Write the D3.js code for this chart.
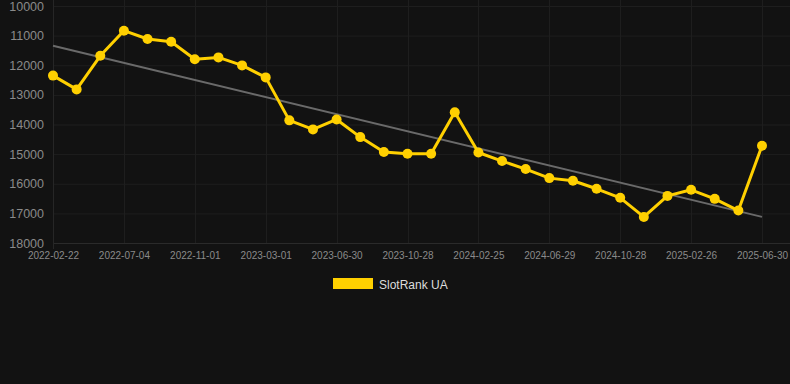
<!DOCTYPE html>
<html><head><meta charset="utf-8">
<script src="https://cdn.jsdelivr.net/npm/d3@7"></script>
<style>
html,body{margin:0;padding:0;background:#121212;}
svg{display:block;}
</style></head>
<body>
<svg id="chart" width="790" height="384"></svg>
<script>
const categories = ["2022-02-22","2022-04-05","2022-05-20","2022-07-04","2022-08-13","2022-09-22","2022-11-01","2022-12-11","2023-01-20","2023-03-01","2023-04-10","2023-05-20","2023-06-30","2023-08-08","2023-09-18","2023-10-28","2023-12-07","2024-01-16","2024-02-25","2024-04-05","2024-05-18","2024-06-29","2024-08-08","2024-09-18","2024-10-28","2024-12-07","2025-01-16","2025-02-26","2025-04-06","2025-05-16","2025-06-30"];
const rankValues = [12350,12815,11680,10834,11115,11205,11800,11735,12005,12410,13860,14165,13830,14425,14930,14990,14990,13590,14945,15235,15505,15810,15900,16170,16475,17120,16410,16205,16510,16905,14720];
const trendValues = [11340, 17118];
const yTicks = [10000,11000,12000,13000,14000,15000,16000,17000,18000];
const xTickLabels = ["2022-02-22","2022-07-04","2022-11-01","2023-03-01","2023-06-30","2023-10-28","2024-02-25","2024-06-29","2024-10-28","2025-02-26","2025-06-30"];
const seriesName = "SlotRank UA";

const svg = d3.select("#chart");
const mLeft = 53, mRight = 762, mTop = 6, mBottom = 243;

const x = d3.scalePoint().domain(categories).range([mLeft, mRight]);
const y = d3.scaleLinear().domain([10000, 18000]).range([mTop, mBottom]);

// grid
const g = svg.append("g");
g.selectAll(".hg").data(yTicks).enter().append("line")
  .attr("x1", mLeft).attr("x2", 790)
  .attr("y1", d => y(d) + 0.5).attr("y2", d => y(d) + 0.5)
  .attr("stroke", d => d === 18000 ? "#2a2a2a" : "#1e1e1e").attr("stroke-width", 1);
g.selectAll(".vg").data(xTickLabels).enter().append("line")
  .attr("x1", d => Math.round(x(d)) + 0.5).attr("x2", d => Math.round(x(d)) + 0.5)
  .attr("y1", 0).attr("y2", (d, i) => i === 0 ? mBottom + 6 : mBottom)
  .attr("stroke", (d, i) => i === 0 ? "#262626" : "#1e1e1e").attr("stroke-width", 1);

// y axis labels
const yAxis = d3.axisLeft(y).tickValues(yTicks).tickSize(0).tickPadding(0).tickFormat(d => String(d));
const ya = svg.append("g").attr("transform", `translate(${mLeft - 9},0)`).call(yAxis);
ya.select(".domain").remove();
ya.selectAll("text").attr("fill", "#8a8a8a").attr("font-family", "Arial, 'Liberation Sans', sans-serif").attr("font-size", 12.5);

// x axis labels
const xAxis = d3.axisBottom(x).tickValues(xTickLabels).tickSize(0).tickPadding(0);
const xa = svg.append("g").attr("transform", `translate(0,${mBottom + 6})`).call(xAxis);
xa.select(".domain").remove();
xa.selectAll("text").attr("fill", "#8a8a8a").attr("font-family", "Arial, 'Liberation Sans', sans-serif").attr("font-size", 10).attr("dy", "1em");

// trend line
svg.append("line")
  .attr("x1", x(categories[0])).attr("x2", x(categories[categories.length - 1]))
  .attr("y1", y(trendValues[0])).attr("y2", y(trendValues[1]))
  .attr("stroke", "#6a6a6a").attr("stroke-width", 2);

// series
const line = d3.line().x((d, i) => x(categories[i])).y(d => y(d));
svg.append("path").datum(rankValues).attr("d", line)
  .attr("fill", "none").attr("stroke", "#FFD000").attr("stroke-width", 3).attr("stroke-linejoin", "round");
svg.selectAll(".pt").data(rankValues).enter().append("circle")
  .attr("cx", (d, i) => x(categories[i])).attr("cy", d => y(d)).attr("r", 5)
  .attr("fill", "#FFD000");

// legend
svg.append("rect").attr("x", 333).attr("y", 278).attr("width", 40).attr("height", 11).attr("fill", "#FFD000");
svg.append("text").attr("x", 379).attr("y", 288.5).text(seriesName)
  .attr("fill", "#dddddd").attr("font-family", "Arial, 'Liberation Sans', sans-serif").attr("font-size", 12);
</script>
</body></html>
